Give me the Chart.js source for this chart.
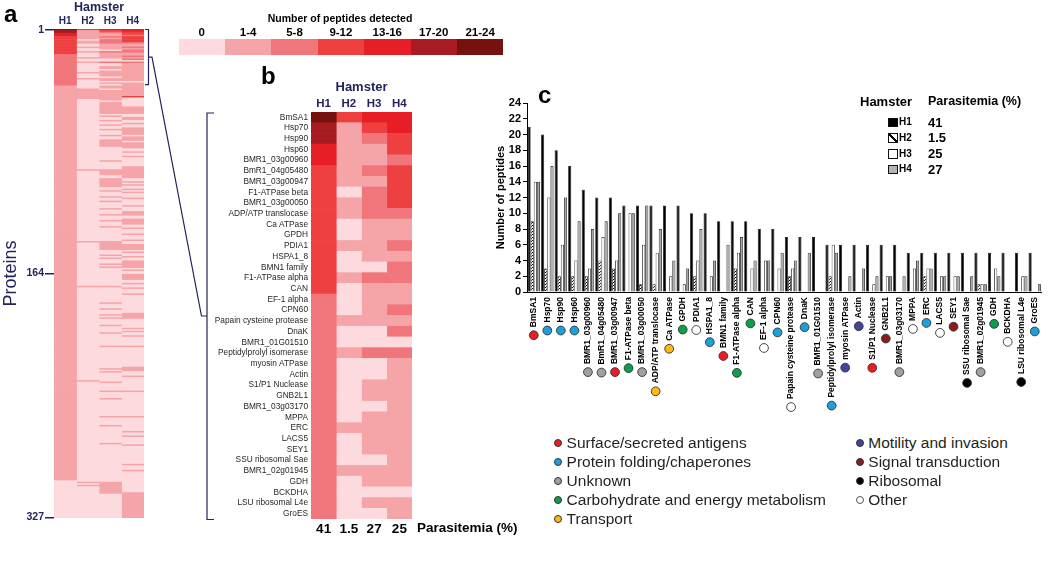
<!DOCTYPE html>
<html>
<head>
<meta charset="utf-8">
<script src="https://cdn.jsdelivr.net/npm/chart.js@4.4.1/dist/chart.umd.min.js"></script>
<style>
  body { margin: 0; background: #fff; font-family: "Liberation Sans", Arial, sans-serif; }
  #page { position: relative; width: 1050px; height: 573px; overflow: hidden; background: #fff; }
  canvas { position: absolute; }
  .t { position: absolute; white-space: nowrap; line-height: 1; }
  .sw { position: absolute; box-sizing: border-box; }
  .dot { position: absolute; width: 8px; height: 8px; border-radius: 50%; box-sizing: border-box; border: 1px solid #333; }
</style>
</head>
<body>
<div id="page">
  <canvas id="chartA" width="216" height="530" style="left:0;top:0"></canvas>
  <canvas id="chartB" width="330" height="480" style="left:212px;top:60px"></canvas>
  <canvas id="chartC" width="570" height="340" style="left:480px;top:80px"></canvas>
</div>
<script>
// ---- data ----
const proteins = ['BmSA1', 'Hsp70', 'Hsp90', 'Hsp60', 'BMR1_03g00960', 'BmR1_04g05480', 'BMR1_03g00947',
  'F1-ATPase beta', 'BMR1_03g00050', 'ADP/ATP translocase', 'Ca ATPase', 'GPDH', 'PDIA1', 'HSPA1_8',
  'BMN1 family', 'F1-ATPase alpha', 'CAN', 'EF-1 alpha', 'CPN60', 'Papain cysteine protease', 'DnaK',
  'BMR1_01G01510', 'Peptidylprolyl isomerase', 'myosin ATPase', 'Actin', 'S1/P1 Nuclease', 'GNB2L1',
  'BMR1_03g03170', 'MPPA', 'ERC', 'LACS5', 'SEY1', 'SSU ribosomal Sae', 'BMR1_02g01945', 'GDH', 'BCKDHA',
  'LSU ribosomal L4e', 'GroES'];
const hamsters = ['H1', 'H2', 'H3', 'H4'];
const parasitemiaB = ['41', '1.5', '27', '25'];
const parasitemiaC = ['41', '1.5', '25', '27'];

// peptides per protein (panel c)
const pepH1 = [21,20,18,16,13,12,12,11,11,11,11,11,10,10,9,9,9,8,8,7,7,7,6,6,6,6,6,6,5,5,5,5,5,5,5,5,5,5];
const pepH2 = [9,3,2,2,2,4,3,0,1,1,0,0,2,0,0,3,0,0,0,2,0,0,2,0,0,0,0,0,0,2,0,0,0,1,0,0,0,0];
const pepH3 = [14,12,6,4,3,7,4,10,6,5,2,1,4,2,0,5,3,4,3,3,0,0,6,0,0,1,2,0,3,3,2,2,0,1,3,0,2,0];
const pepH4 = [14,16,12,9,8,9,10,10,11,8,4,3,8,4,6,7,4,4,5,4,5,0,5,2,3,2,2,2,4,3,2,2,2,1,2,0,2,1];

// heatmap bins
const levelLabels = ['0', '1-4', '5-8', '9-12', '13-16', '17-20', '21-24'];
const levelColors = ['#fcdadd', '#f5a4a8', '#f1767b', '#ee4041', '#e71e26', '#a71c22', '#761110'];

// panel b levels (index into levelLabels)
const lvB_H1 = [6,5,5,4,4,3,3,3,3,3,3,3,3,3,3,3,3,2,2,2,2,2,2,2,2,2,2,2,2,2,2,2,2,2,2,2,2,2];
const lvB_H2 = [3,1,1,1,1,1,1,0,1,1,0,0,1,0,0,1,0,0,0,1,0,0,1,0,0,0,0,0,0,1,0,0,0,1,0,0,0,0];
const lvB_H3 = [4,3,2,1,1,2,1,2,2,2,1,1,1,1,0,2,1,1,1,1,0,0,2,0,0,1,1,0,1,1,1,1,0,1,1,0,1,0];
const lvB_H4 = [4,4,3,3,2,3,3,3,3,2,1,1,2,1,2,2,1,1,2,1,2,0,2,1,1,1,1,1,1,1,1,1,1,1,1,0,1,1];

// panel a: 327 proteins; rows below the top 38 given as [from, to, level(default 1)]
const rowsA = 327;
const runsA_H1 = [[39,302]];
const runsA_H2 = [[41,47],[95,95],[143,143],[173,173],[236,236],[304,304],[306,306]];
const runsA_H3 = [[39,40],[42,48],[50,57],[59,59],[62,62],[65,65],[68,68],[72,72],[75,79],[89,89],
  [95,98],[101,106],[109,109],[113,113],[116,116],[121,121],[125,125],[129,129],[133,133],[143,148],
  [152,152],[154,154],[158,158],[160,160],[173,173],[184,184],[188,188],[192,192],[194,194],[199,199],
  [204,204],[213,213],[228,228],[230,230],[237,237],[243,243],[248,248],[260,260],[266,266],[278,278],[304,311]];
const runsA_H4 = [[39,45],[46,46,3],[53,57],[60,61],[64,64],[67,71],[73,75],[77,80],[83,83],[86,86],
  [93,100],[103,103],[105,105],[108,108],[110,110],[114,114],[119,119],[123,125],[128,131],[134,134],
  [138,138],[142,142],[145,148],[150,150],[153,153],[156,160],[162,162],[165,168],[171,171],[174,174],
  [178,178],[191,194],[201,201],[203,203],[206,206],[213,213],[227,229],[233,233],[243,243],[260,260],
  [270,270],[273,273],[279,279],[292,292],[296,296],[311,327]];

// functional categories (panel c)
const categoryNames = ['Surface/secreted antigens', 'Protein folding/chaperones', 'Unknown',
  'Carbohydrate and energy metabolism', 'Transport', 'Motility and invasion', 'Signal transduction',
  'Ribosomal', 'Other'];
const categoryColors = ['#ec1c24', '#1ba0dc', '#a0a0a0', '#0c9f4a', '#fcb814', '#44449b', '#8a1b1b', '#000000', '#ffffff'];
const proteinCategory = [0,1,1,1,2,2,0,3,2,4,4,3,8,1,0,3,3,8,1,8,1,2,1,5,5,0,6,2,8,1,8,6,7,2,3,8,7,1];

// ---- helpers ----
const navy = '#23235e';
const FONT = "'Liberation Sans', Arial, sans-serif";
Chart.defaults.font.family = FONT;
Chart.defaults.animation = false;
Chart.defaults.events = [];
Chart.defaults.plugins.legend.display = false;
Chart.defaults.plugins.tooltip.enabled = false;

const page = document.getElementById('page');
function txt(s, x, cy, fs, opts) {
  opts = opts || {};
  const d = document.createElement('div');
  d.className = 't';
  d.textContent = s;
  d.style.fontSize = fs + 'px';
  d.style.fontWeight = opts.bold ? 'bold' : 'normal';
  d.style.color = opts.color || '#000';
  d.style.top = (cy - fs * 0.5) + 'px';
  if (opts.align === 'center') { d.style.left = x + 'px'; d.style.transform = 'translateX(-50%)'; }
  else d.style.left = x + 'px';
  page.appendChild(d);
  return d;
}

function buildColumn(top, runs) {
  const col = [];
  for (let r = 1; r <= rowsA; r++) col.push(r <= top.length ? top[r - 1] : 0);
  runs.forEach(run => {
    for (let r = run[0]; r <= run[1]; r++) col[r - 1] = run[2] === undefined ? 1 : run[2];
  });
  return col;
}

function heatDatasets(cols) {
  return cols.map((col, i) => ({
    label: hamsters[i],
    data: col.map(() => 1),
    backgroundColor: col.map(l => levelColors[l]),
    borderWidth: 0,
    barPercentage: 1,
    categoryPercentage: 1
  }));
}

// ---- panel a ----
const colsA = [
  buildColumn(lvB_H1, runsA_H1),
  buildColumn(lvB_H2, runsA_H2),
  buildColumn(lvB_H3, runsA_H3),
  buildColumn(lvB_H4, runsA_H4)
];
const rowLabelsA = colsA[0].map((v, i) => String(i + 1));
const shownA = [0, 163, 326];

const bracketPlugin = {
  id: 'brackets',
  afterDraw(chart) {
    const ctx = chart.ctx;
    const ys = chart.scales.y;
    const top = chart.chartArea.top + 0.5;
    const bot = ys.getPixelForValue(37) - 0.5;
    const mid = (top + bot) / 2;
    ctx.save();
    ctx.strokeStyle = navy;
    ctx.lineWidth = 1.2;
    ctx.beginPath();
    ctx.moveTo(145, top); ctx.lineTo(148.5, top); ctx.lineTo(148.5, bot); ctx.lineTo(145, bot);
    ctx.moveTo(148.5, mid); ctx.lineTo(152, mid); ctx.lineTo(201.5, 316); ctx.lineTo(207, 316);
    ctx.moveTo(214, 113); ctx.lineTo(207, 113); ctx.lineTo(207, 519.5); ctx.lineTo(214, 519.5);
    ctx.stroke();
    ctx.restore();
  }
};

new Chart(document.getElementById('chartA'), {
  type: 'bar',
  data: { labels: rowLabelsA, datasets: heatDatasets(colsA) },
  plugins: [bracketPlugin],
  options: {
    responsive: false,
    indexAxis: 'y',
    layout: { padding: { left: 0, top: 0, right: 72, bottom: 12 } },
    scales: {
      x: { type: 'linear', stacked: true, min: 0, max: 4, display: false },
      xt: {
        type: 'category', labels: hamsters, position: 'top', offset: true,
        grid: { display: false, drawTicks: false }, border: { display: false },
        ticks: { font: { size: 10, weight: 'bold' }, color: navy, padding: 2 },
        title: { display: true, text: 'Hamster', font: { size: 12.5, weight: 'bold' }, color: navy, padding: { top: 0, bottom: 1 } },
        afterFit: s => { s.height = 29; }
      },
      y: {
        type: 'category', stacked: true, offset: true,
        grid: { offset: false, drawOnChartArea: false, tickLength: 9, color: navy, lineWidth: 1.5 },
        border: { display: false },
        ticks: {
          autoSkip: false, padding: 1, color: navy, font: { size: 10.5, weight: 'bold' },
          callback: (v, i) => shownA.includes(i) ? rowLabelsA[i] : null
        },
        title: { display: true, text: 'Proteins', font: { size: 18 }, color: navy, padding: { top: 0, bottom: 2 } },
        afterFit: s => { s.width = 54; }
      }
    }
  }
});

// ---- panel b ----
new Chart(document.getElementById('chartB'), {
  type: 'bar',
  data: { labels: proteins, datasets: heatDatasets([lvB_H1, lvB_H2, lvB_H3, lvB_H4]) },
  options: {
    responsive: false,
    indexAxis: 'y',
    layout: { padding: { left: 0, top: 20, right: 130, bottom: 0 } },
    scales: {
      x: { type: 'linear', stacked: true, min: 0, max: 4, display: false },
      xt: {
        type: 'category', labels: hamsters, position: 'top', offset: true,
        grid: { display: false, drawTicks: false }, border: { display: false },
        ticks: { font: { size: 11.5, weight: 'bold' }, color: navy, padding: 1 },
        title: { display: true, text: 'Hamster', font: { size: 13, weight: 'bold' }, color: navy, padding: { top: 0, bottom: 1 } },
        afterFit: s => { s.height = 32; }
      },
      xb: {
        type: 'category', labels: parasitemiaB, position: 'bottom', offset: true,
        grid: { display: false, drawTicks: false }, border: { display: false },
        ticks: { font: { size: 13.5, weight: 'bold' }, color: '#000', padding: 2 },
        afterFit: s => { s.height = 21; }
      },
      y: {
        type: 'category', stacked: true, offset: true,
        grid: { display: false, drawTicks: false }, border: { display: false },
        ticks: { autoSkip: false, padding: 3, color: '#231f20', font: { size: 8.3 } },
        afterFit: s => { s.width = 99; }
      }
    }
  }
});

// ---- panel c ----
function hatchPattern() {
  const c = document.createElement('canvas');
  c.width = 3; c.height = 3;
  const g = c.getContext('2d');
  g.fillStyle = '#fff'; g.fillRect(0, 0, 3, 3);
  g.fillStyle = '#000';
  g.fillRect(0, 2, 1, 1); g.fillRect(1, 1, 1, 1); g.fillRect(2, 0, 1, 1);
  return g.createPattern(c, 'repeat');
}

const circlePlugin = {
  id: 'categoryDots',
  afterDraw(chart) {
    const xs = chart.scales.x;
    const ctx = chart.ctx;
    ctx.save();
    ctx.font = 'bold 8.5px ' + FONT;
    proteins.forEach((name, i) => {
      const w = ctx.measureText(name).width;
      const cx = xs.getPixelForTick(i);
      const cy = xs.top + 5 + w + 8;
      ctx.beginPath();
      ctx.arc(cx, cy, 4.4, 0, Math.PI * 2);
      ctx.fillStyle = categoryColors[proteinCategory[i]];
      ctx.fill();
      ctx.lineWidth = 0.9;
      ctx.strokeStyle = '#333';
      ctx.stroke();
    });
    ctx.restore();
  }
};

const barStyle = { borderWidth: 0.8, borderColor: '#111', barPercentage: 1, categoryPercentage: 0.92 };
new Chart(document.getElementById('chartC'), {
  type: 'bar',
  data: {
    labels: proteins,
    datasets: [
      Object.assign({ label: 'H1', data: pepH1, backgroundColor: '#000' }, barStyle),
      Object.assign({ label: 'H2', data: pepH2, backgroundColor: hatchPattern() }, barStyle),
      Object.assign({ label: 'H3', data: pepH3, backgroundColor: '#fff' }, barStyle),
      Object.assign({ label: 'H4', data: pepH4, backgroundColor: '#a8a8a8' }, barStyle)
    ]
  },
  plugins: [circlePlugin],
  options: {
    responsive: false,
    layout: { padding: { left: 10, top: 23, right: 2, bottom: 0 } },
    scales: {
      x: {
        grid: { display: false, drawTicks: false },
        border: { display: true, color: '#000', width: 1 },
        ticks: { autoSkip: false, minRotation: 90, maxRotation: 90, padding: 5, color: '#000', font: { size: 8.5, weight: 'bold' } },
        afterFit: s => { s.height = 128; }
      },
      y: {
        min: 0, max: 24,
        grid: { drawOnChartArea: false, tickLength: 4, color: '#000' },
        border: { display: true, color: '#000', width: 1 },
        ticks: { stepSize: 2, autoSkip: false, padding: 2, color: '#000', font: { size: 11, weight: 'bold' } },
        title: { display: true, text: 'Number of peptides', color: '#000', font: { size: 11, weight: 'bold' }, padding: { top: 4, bottom: 0 } },
        afterFit: s => { s.width = 37; }
      }
    }
  }
});

// ---- text, colour scale and legends ----
txt('a', 4, 14, 24, { bold: true });
txt('b', 261, 76, 24, { bold: true });
txt('c', 538, 95, 24, { bold: true });

txt('Number of peptides detected', 340, 18, 10.5, { bold: true, align: 'center' });
levelLabels.forEach((lab, i) => {
  const x0 = 178.5 + i * 46.4;
  txt(lab, x0 + 23.2, 33, 11.5, { bold: true, align: 'center' });
  const b = document.createElement('div');
  b.className = 'sw';
  Object.assign(b.style, { left: x0 + 'px', top: '39px', width: '46.5px', height: '16px', background: levelColors[i] });
  page.appendChild(b);
});

txt('Parasitemia (%)', 417, 528, 13.5, { bold: true });

// panel c hamster legend
txt('Hamster', 860, 101.5, 13, { bold: true });
txt('Parasitemia (%)', 928, 101.5, 12.5, { bold: true });
const swatchBg = ['#000', 'linear-gradient(to top right, #fff 38%, #000 38%, #000 62%, #fff 62%)', '#fff', '#b4b4b4'];
[122, 137.7, 153.6, 169.3].forEach((cy, i) => {
  const s = document.createElement('div');
  s.className = 'sw';
  Object.assign(s.style, { left: '887.5px', top: (cy - 4.5) + 'px', width: '10px', height: '9.5px', background: swatchBg[i], border: '1.3px solid #111' });
  page.appendChild(s);
  txt(hamsters[i], 899, cy, 10, { bold: true });
  txt(parasitemiaC[i], 928, cy, 13, { bold: true });
});

// category legend
const legendRows = [442.7, 461.7, 480.7, 500, 519];
categoryNames.forEach((name, i) => {
  const col = i < 5 ? 0 : 1;
  const row = i < 5 ? i : i - 5;
  const cx = col ? 860 : 558.3;
  const cy = legendRows[row];
  const d = document.createElement('div');
  d.className = 'dot';
  Object.assign(d.style, { left: (cx - 4) + 'px', top: (cy - 4) + 'px', background: categoryColors[i] });
  if (categoryColors[i] === '#ffffff') d.style.borderColor = '#555';
  page.appendChild(d);
  txt(name, cx + 8.3, cy, 15.5, { color: '#231f20' });
});
</script>
</body>
</html>
